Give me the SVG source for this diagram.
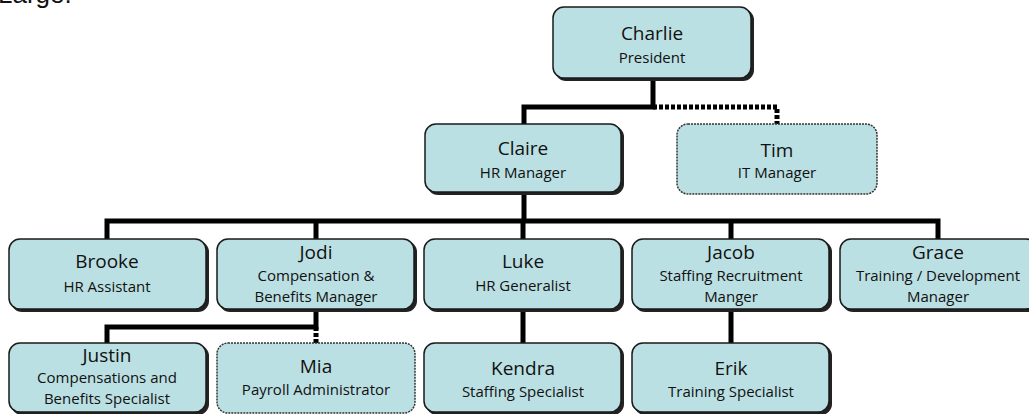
<svg xmlns="http://www.w3.org/2000/svg" width="1029" height="414" viewBox="0 0 1029 414">
<style>
.box{fill:#bbe0e3;stroke:#1a1a1a;stroke-width:1.5}
.dbox{fill:#bbe0e3;stroke:#333;stroke-width:1.5;stroke-dasharray:2 1}
.sh{fill:#222}
.n{font-family:"Open Sans","DejaVu Sans",sans-serif;font-size:19px;fill:#111;text-anchor:middle}
.t{font-family:"Open Sans","DejaVu Sans",sans-serif;font-size:15px;fill:#111;text-anchor:middle}
.c{fill:none;stroke:#000;stroke-width:5}
.cd{fill:none;stroke:#000;stroke-width:5;stroke-dasharray:4 2}
</style>
<text x="-2" y="3" font-family="Liberation Sans, Arial, sans-serif" font-size="26" fill="#111">Large.</text>
<g id="connectors">
<path class="c" d="M653 79V107H524V124"/>
<path class="cd" d="M653 107H777V124"/>
<path class="c" d="M524 193V221M107 239V221H938V239M316 221V239M523 221V239M731 221V239"/>
<path class="c" d="M316 310V327H107V343"/>
<path class="cd" d="M316 327V343"/>
<path class="c" d="M523 310V343M731 310V343"/>
</g>
<g id="charlie"><rect class="sh" x="555" y="9" width="199" height="72" rx="11"/><rect class="box" x="553" y="7" width="198" height="71" rx="11"/><text class="n" x="652" y="40">Charlie</text><text class="t" x="652" y="63">President</text></g>
<g id="claire"><rect class="sh" x="427" y="126" width="197" height="69" rx="11"/><rect class="box" x="425" y="124" width="196" height="68" rx="11"/><text class="n" x="523" y="155">Claire</text><text class="t" x="523" y="178">HR Manager</text></g>
<g id="tim"><rect class="dbox" x="677" y="124" width="200" height="70" rx="11"/><text class="n" x="777" y="157">Tim</text><text class="t" x="777" y="178">IT Manager</text></g>
<g id="brooke"><rect class="sh" x="11" y="241" width="198" height="71" rx="11"/><rect class="box" x="9" y="239" width="197" height="70" rx="11"/><text class="n" x="107" y="268">Brooke</text><text class="t" x="107" y="292">HR Assistant</text></g>
<g id="jodi"><rect class="sh" x="219" y="241" width="198" height="71" rx="11"/><rect class="box" x="217" y="239" width="197" height="70" rx="11"/><text class="n" x="316" y="259">Jodi</text><text class="t" x="316" y="281">Compensation &amp;</text><text class="t" x="316" y="302">Benefits Manager</text></g>
<g id="luke"><rect class="sh" x="426" y="241" width="198" height="71" rx="11"/><rect class="box" x="424" y="239" width="197" height="70" rx="11"/><text class="n" x="523" y="268">Luke</text><text class="t" x="523" y="291">HR Generalist</text></g>
<g id="jacob"><rect class="sh" x="634" y="241" width="198" height="71" rx="11"/><rect class="box" x="632" y="239" width="197" height="70" rx="11"/><text class="n" x="731" y="259">Jacob</text><text class="t" x="731" y="281">Staffing Recruitment</text><text class="t" x="731" y="302">Manger</text></g>
<g id="grace"><rect class="sh" x="842" y="241" width="198" height="71" rx="11"/><rect class="box" x="840" y="239" width="197" height="70" rx="11"/><text class="n" x="938" y="259">Grace</text><text class="t" x="938" y="281">Training / Development</text><text class="t" x="938" y="302">Manager</text></g>
<g id="justin"><rect class="sh" x="11" y="345" width="198" height="70" rx="11"/><rect class="box" x="9" y="343" width="197" height="69" rx="11"/><text class="n" x="107" y="362">Justin</text><text class="t" x="107" y="383">Compensations and</text><text class="t" x="107" y="404">Benefits Specialist</text></g>
<g id="mia"><rect class="dbox" x="217" y="343" width="198" height="70" rx="11"/><text class="n" x="316" y="373">Mia</text><text class="t" x="316" y="395">Payroll Administrator</text></g>
<g id="kendra"><rect class="sh" x="426" y="345" width="198" height="70" rx="11"/><rect class="box" x="424" y="343" width="197" height="69" rx="11"/><text class="n" x="523" y="375">Kendra</text><text class="t" x="523" y="397">Staffing Specialist</text></g>
<g id="erik"><rect class="sh" x="634" y="345" width="198" height="70" rx="11"/><rect class="box" x="632" y="343" width="197" height="69" rx="11"/><text class="n" x="731" y="375">Erik</text><text class="t" x="731" y="397">Training Specialist</text></g>
</svg>
